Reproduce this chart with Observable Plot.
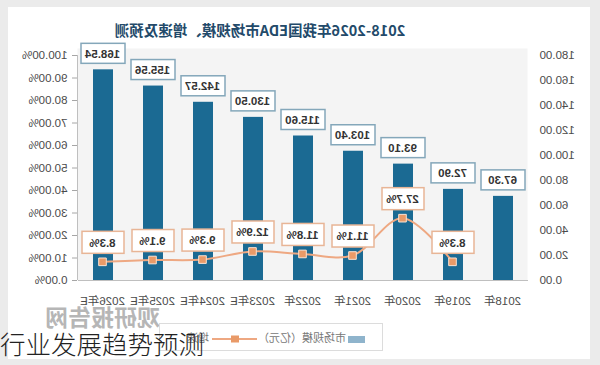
<!DOCTYPE html>
<html>
<head>
<meta charset="utf-8">
<script src="https://cdn.jsdelivr.net/npm/d3@7"></script>
<script src="https://cdn.jsdelivr.net/npm/@observablehq/plot@0.6"></script>
<style>
  body { margin: 0; background: #ebebeb; }
  #wrap { position: relative; width: 600px; height: 365px; overflow: hidden; background: #ebebeb; }
  #flip { position: absolute; left: 0; top: 0; width: 600px; height: 365px; transform: scaleX(-1); }
  #card { position: absolute; left: 10px; top: 7px; width: 582px; height: 352px; background: #fff; }
  #title { position: absolute; left: 140px; width: 400px; top: 20px; line-height: 20px; text-align: center;
           font-family: "Noto Sans CJK SC", sans-serif; font-weight: bold; font-size: 14.5px; color: #234a6a; }
  #chart { position: absolute; left: 0; top: 0; }
  #legend { position: absolute; left: 217px; top: 323px; width: 222px; height: 26px; border: 1px solid #dcdcdc;
            font-family: "Noto Sans CJK SC", sans-serif; font-size: 11px; color: #777; }
  .item { position: absolute; top: 0; line-height: 26px; white-space: nowrap; }
  #watermark { position: absolute; left: 440px; top: 299px; font-family: "Noto Sans CJK SC", sans-serif;
               font-weight: bold; font-size: 23px; color: rgba(110,110,110,0.5); white-space: nowrap; }
  #caption { position: absolute; left: 0; top: 326px; font-family: "Noto Sans CJK SC", sans-serif; font-weight: 300;
             font-size: 25.5px; color: #222; white-space: nowrap; line-height: 34px; }
</style>
</head>
<body>
<div id="wrap">
  <div id="flip">
    <div id="card"></div>
    <div id="chart"></div>
    <div id="title"></div>
    <div id="watermark"></div>
    <div id="legend"></div>
  </div>
  <div id="caption"></div>
</div>
<script>
// ---- data ----
const years = ["2018年", "2019年", "2020年", "2021年", "2022年", "2023年E", "2024年E", "2025年E", "2026年E"];
const marketSize = [67.30, 72.90, 93.10, 103.40, 115.60, 130.50, 142.57, 155.56, 168.54];
const growthPct = [null, 8.3, 27.7, 11.1, 11.8, 12.9, 9.3, 9.1, 8.3];
const valueTicks = [0, 20, 40, 60, 80, 100, 120, 140, 160, 180];
const pctTicks = [0, 10, 20, 30, 40, 50, 60, 70, 80, 90, 100];
const titleText = "2018-2026年我国EDA市场规模、增速及预测";
const legendLabels = ["市场规模（亿元）", "增速"];
const captionText = "行业发展趋势预测";
const watermarkText = "观研报告网";

// ---- build ----
const rows = years.map((y, i) => ({year: y, size: marketSize[i], growth: growthPct[i]}));
const growthRows = rows.filter(d => d.growth != null);
const vMax = d3.max(valueTicks), pMax = d3.max(pctTicks);
const pctToY = p => p / pMax * vMax;   // secondary axis mapped on the value scale

const barColor = "#1b6a93";
const lineColor = "#eea882";

const chart = Plot.plot({
  width: 600,
  height: 310,
  marginTop: 55,
  marginBottom: 30,
  marginLeft: 72,
  marginRight: 78,
  style: {background: "transparent", fontFamily: "'Liberation Sans', 'Noto Sans CJK SC', sans-serif", color: "#4a4a4a"},
  x: {domain: years, paddingInner: 0.6, paddingOuter: 0.3},
  y: {domain: [0, vMax]},
  marks: [
    Plot.frame({fill: "#f4f4f4", stroke: null, insetTop: -7}),
    Plot.ruleY([0], {stroke: "#bfbfbf"}),
    Plot.ruleX([years[years.length - 1]], {y1: 0, y2: vMax, dx: 25, stroke: "#bfbfbf"}),
    Plot.barY(rows, {x: "year", y: "size", fill: barColor}),
    Plot.line(growthRows, {x: "year", y: d => pctToY(d.growth), stroke: lineColor, strokeWidth: 2, curve: "catmull-rom"}),
    Plot.dot(growthRows, {x: "year", y: d => pctToY(d.growth), symbol: "square", r: 4.3, fill: "#e99a68", stroke: "#fbe3d3", strokeWidth: 1}),
    // value label boxes
    Plot.barY(rows, {x: "year", y1: "size", y2: "size", insetTop: -26, insetBottom: 6, insetLeft: -12, insetRight: -12,
      fill: "white", stroke: "#84a7ba", strokeWidth: 1.5}),
    Plot.text(rows, {x: "year", y: "size", dy: -16, text: d => d.size.toFixed(2), fontSize: 11.5, fontWeight: "bold", fill: "#333"}),
    // growth label boxes
    Plot.barY(growthRows, {x: "year", y1: d => pctToY(d.growth), y2: d => pctToY(d.growth), insetTop: -30, insetBottom: 8,
      insetLeft: -11, insetRight: -11, fill: "white", stroke: "#e8b596", strokeWidth: 1.5}),
    Plot.text(growthRows, {x: "year", y: d => pctToY(d.growth), dy: -19, text: d => d.growth.toFixed(1) + "%", fontSize: 11.5, fontWeight: "bold", fill: "#333"}),
    Plot.axisX({tickSize: 0, tickPadding: 16, fontSize: 11.5, label: null}),
    Plot.axisY({anchor: "left", ticks: valueTicks, tickSize: 0, tickPadding: 12, fontSize: 11.5, label: null, tickFormat: d => d.toFixed(2)}),
    Plot.axisY({anchor: "right", ticks: pctTicks.map(pctToY), tickSize: 5, tickPadding: 5, fontSize: 11.5, stroke: "#a6a6a6", label: null,
      tickFormat: d => (d / vMax * pMax).toFixed(2) + "%"})
  ]
});
document.getElementById("chart").appendChild(chart);

document.getElementById("title").textContent = titleText;
document.getElementById("caption").textContent = captionText;
document.getElementById("watermark").textContent = watermarkText;

const legend = document.getElementById("legend");
legend.innerHTML =
  `<div class="item" style="left:17px"><span style="display:inline-block;width:17px;height:7px;background:#8fb4cc;vertical-align:middle;margin-right:2px"></span>${legendLabels[0]}</div>` +
  `<div class="item" style="left:125px"><svg width="45" height="10" style="vertical-align:middle;margin-right:3px"><line x1="0" y1="5" x2="45" y2="5" stroke="${lineColor}" stroke-width="2"/><rect x="18" y="1.5" width="8" height="7" fill="#e99a68"/></svg>${legendLabels[1]}</div>`;
</script>
</body>
</html>
